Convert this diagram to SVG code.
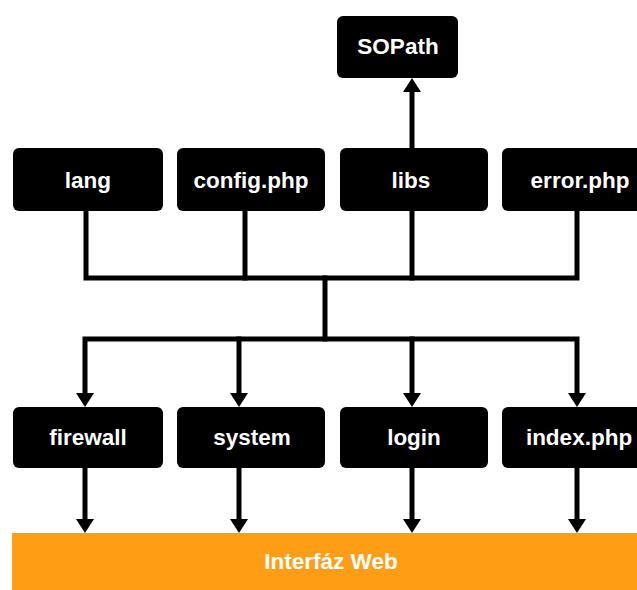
<svg xmlns="http://www.w3.org/2000/svg" width="637" height="590" viewBox="0 0 637 590">
<style>
.box{fill:#000;}
.lbl{fill:#fff;font-family:"Liberation Sans",Arial,sans-serif;font-weight:bold;font-size:22.5px;text-anchor:middle;dominant-baseline:central;}
.ln{fill:none;stroke:#000;stroke-width:5;stroke-linecap:square;}
</style>
<rect width="637" height="590" fill="#fff"/>
<g id="connectors">
<polyline class="ln" points="86,211 86,278 577,278 577,211"/>
<line class="ln" x1="245" y1="211" x2="245" y2="278"/>
<line class="ln" x1="412" y1="211" x2="412" y2="278"/>
<line class="ln" x1="325" y1="278" x2="325" y2="339"/>
<polyline class="ln" points="85,392 85,339 577,339 577,392"/>
<line class="ln" x1="239" y1="339" x2="239" y2="392"/>
<line class="ln" x1="412" y1="339" x2="412" y2="392"/>
<line class="ln" x1="412" y1="148" x2="412" y2="92"/>
<line class="ln" x1="85" y1="468" x2="85" y2="518"/>
<line class="ln" x1="239" y1="468" x2="239" y2="518"/>
<line class="ln" x1="412" y1="468" x2="412" y2="518"/>
<line class="ln" x1="577" y1="468" x2="577" y2="518"/>
<g fill="#000">
<path d="M76,393 L94,393 L85,407 Z"/>
<path d="M230,393 L248,393 L239,407 Z"/>
<path d="M403,393 L421,393 L412,407 Z"/>
<path d="M568,393 L586,393 L577,407 Z"/>
<path d="M76,519 L94,519 L85,533 Z"/>
<path d="M230,519 L248,519 L239,533 Z"/>
<path d="M403,519 L421,519 L412,533 Z"/>
<path d="M568,519 L586,519 L577,533 Z"/>
<path d="M403,92 L421,92 L412,78 Z"/>
</g>
</g>
<g id="sopath"><rect class="box" x="337" y="16" width="121" height="62" rx="6"/><text class="lbl" x="398" y="46">SOPath</text></g>
<g id="lang"><rect class="box" x="13" y="148" width="150" height="63" rx="6"/><text class="lbl" x="88" y="180">lang</text></g>
<g id="config"><rect class="box" x="177" y="148" width="148" height="63" rx="6"/><text class="lbl" x="251" y="180">config.php</text></g>
<g id="libs"><rect class="box" x="340" y="148" width="148" height="63" rx="6"/><text class="lbl" x="411" y="180">libs</text></g>
<g id="error"><rect class="box" x="502" y="148" width="150" height="63" rx="6"/><text class="lbl" x="580" y="180">error.php</text></g>
<g id="firewall"><rect class="box" x="13" y="407" width="150" height="61" rx="6"/><text class="lbl" x="88" y="437">firewall</text></g>
<g id="system"><rect class="box" x="177" y="407" width="148" height="61" rx="6"/><text class="lbl" x="252" y="437">system</text></g>
<g id="login"><rect class="box" x="340" y="407" width="148" height="61" rx="6"/><text class="lbl" x="414" y="437">login</text></g>
<g id="index"><rect class="box" x="502" y="407" width="150" height="61" rx="6"/><text class="lbl" x="579" y="437">index.php</text></g>
<g id="web"><rect x="12" y="533" width="625" height="57" fill="#FF9E15"/><text class="lbl" x="331" y="561">Interfáz Web</text></g>
</svg>
